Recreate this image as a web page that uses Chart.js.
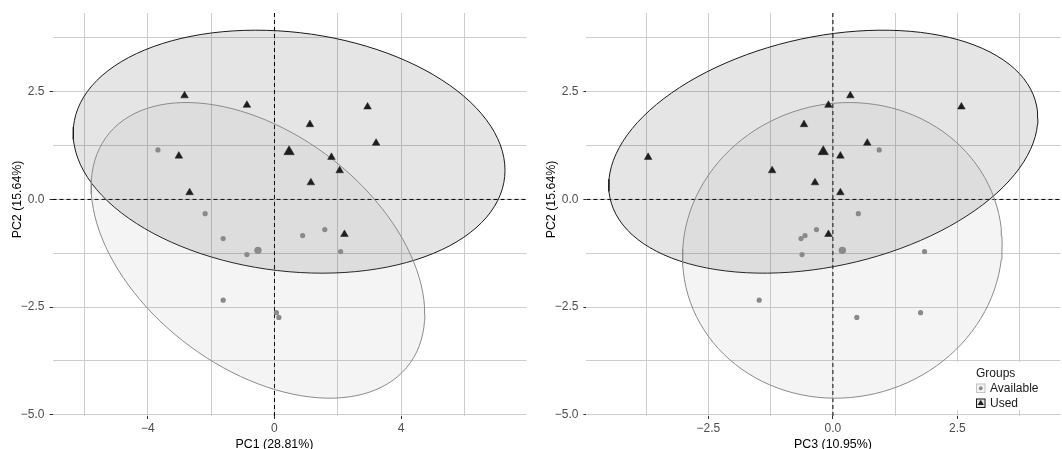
<!DOCTYPE html>
<html>
<head>
<meta charset="utf-8">
<script src="https://cdn.jsdelivr.net/npm/chart.js@4.4.1/dist/chart.umd.min.js"></script>
<style>
  html, body { margin: 0; padding: 0; background: #fff; overflow: hidden; }
  body { width: 1062px; height: 449px; position: relative; }
  canvas { position: absolute; top: 0; }
  #left { left: 0; }
  #right { left: 533px; }
</style>
</head>
<body>
<canvas id="left" width="533" height="449"></canvas>
<canvas id="right" width="534" height="449"></canvas>
<script>
// PCA scores: 11 used sites, 10 available sites
const usedPC1 = [-2.84, -0.87, 2.94, 1.12, 3.21, -3.02, 1.80, 2.06, 1.15, -2.68, 2.21];
const usedPC2 = [2.41, 2.19, 2.15, 1.74, 1.31, 1.01, 0.98, 0.67, 0.39, 0.16, -0.81];
const usedPC3 = [0.35, -0.09, 2.58, -0.58, 0.69, 0.15, -3.71, -1.22, -0.36, 0.15, -0.09];

const availPC1 = [-3.68, -2.19, -1.62, 0.89, 1.59, -0.87, 2.09, -1.62, 0.06, 0.14];
const availPC2 = [1.15, -0.33, -0.91, -0.84, -0.70, -1.28, -1.21, -2.34, -2.63, -2.74];
const availPC3 = [0.93, 0.51, -0.64, -0.56, -0.33, -0.62, 1.84, -1.48, 1.76, 0.48];

const groups = ['Available', 'Used'];
const pc1Title = 'PC1 (28.81%)';
const pc2Title = 'PC2 (15.64%)';
const pc3Title = 'PC3 (10.95%)';

// grid positions (minor + major) and the labelled ones
const pc2Ticks = [-5, -3.75, -2.5, -1.25, 0, 1.25, 2.5, 3.75];
const pc2Major = [-5, -2.5, 0, 2.5];
const pc1Ticks = [-6, -4, -2, 0, 2, 4, 6];
const pc1Major = [-4, 0, 4];
const pc3Ticks = [-3.75, -2.5, -1.25, 0, 1.25, 2.5, 3.75];
const pc3Major = [-2.5, 0, 2.5];

const FONT = '"Liberation Sans", Arial, sans-serif';
const GREY = '#8a8a8a';
const DARK = '#1e1e1e';
const USED_FILL = 'rgba(0,0,0,0.1)';
const AVAIL_FILL = 'rgba(150,150,150,0.1)';

Chart.defaults.font.family = FONT;

function mean(a) {
  return a.reduce((s, v) => s + v, 0) / a.length;
}

function pts(xs, ys) {
  return xs.map((x, i) => ({ x: x, y: ys[i] }));
}

// normal 95% ellipse, like ggplot2 stat_ellipse(type = "norm")
function ellipse(xs, ys, level = 0.95, segments = 120) {
  const n = xs.length;
  const mx = mean(xs), my = mean(ys);
  let sxx = 0, syy = 0, sxy = 0;
  for (let i = 0; i < n; i++) {
    const dx = xs[i] - mx, dy = ys[i] - my;
    sxx += dx * dx; syy += dy * dy; sxy += dx * dy;
  }
  sxx /= n - 1; syy /= n - 1; sxy /= n - 1;
  // cholesky of the covariance
  const a = Math.sqrt(sxx), b = sxy / a, c = Math.sqrt(syy - b * b);
  // F(2, n-1) quantile has a closed form
  const d = n - 1;
  const q = d / 2 * (Math.pow(1 - level, -2 / d) - 1);
  const r = Math.sqrt(2 * q);
  const out = [];
  for (let k = 0; k <= segments; k++) {
    const t = 2 * Math.PI * k / segments;
    out.push({ x: mx + r * a * Math.cos(t), y: my + r * (b * Math.cos(t) + c * Math.sin(t)) });
  }
  return out;
}

function fmt(v, digits) {
  const s = Math.abs(v).toFixed(digits);
  return v < 0 ? '\u2212' + s : s;
}

// dashed lines through the origin
const zeroLines = {
  id: 'zeroLines',
  beforeDatasetsDraw(chart) {
    const { ctx, chartArea: a, scales: { x, y } } = chart;
    const x0 = x.getPixelForValue(0), y0 = y.getPixelForValue(0);
    ctx.save();
    ctx.strokeStyle = '#000';
    ctx.lineWidth = 1;
    ctx.setLineDash([4, 3]);
    ctx.beginPath();
    ctx.moveTo(a.left, y0); ctx.lineTo(a.right, y0);
    ctx.moveTo(x0, a.top); ctx.lineTo(x0, a.bottom);
    ctx.stroke();
    ctx.restore();
  }
};

// axis titles sit centred on the origin in the original
const originTitles = {
  id: 'originTitles',
  afterDraw(chart, args, opts) {
    const { ctx, chartArea: a, scales: { x, y } } = chart;
    ctx.save();
    ctx.font = '12.4px ' + FONT;
    ctx.fillStyle = '#000';
    ctx.textAlign = 'center';
    ctx.textBaseline = 'alphabetic';
    ctx.fillText(opts.x, x.getPixelForValue(0), 448);
    ctx.translate(a.left - 31.5, y.getPixelForValue(0));
    ctx.rotate(-Math.PI / 2);
    ctx.fillText(opts.y, 0, 0);
    ctx.restore();
  }
};

// ggplot-like legend: boxed keys with the point inside
const groupLegend = {
  id: 'groupLegend',
  afterDraw(chart, args, opts) {
    if (!opts.show) return;
    const ctx = chart.ctx;
    ctx.save();
    ctx.fillStyle = '#fff';
    ctx.fillRect(opts.x - 20, opts.y - 6, 94, 48);
    ctx.font = '12px ' + FONT;
    ctx.fillStyle = '#1a1a1a';
    ctx.textBaseline = 'alphabetic';
    ctx.fillText(opts.title, opts.x, opts.y + 8.5);
    opts.items.forEach((it, i) => {
      const bx = opts.x, by = opts.y + 15.5 + i * 15, s = 9.5;
      ctx.fillStyle = '#fff';
      ctx.fillRect(bx, by, s, s);
      ctx.fillStyle = it.fill;
      ctx.fillRect(bx, by, s, s);
      ctx.strokeStyle = it.stroke;
      ctx.lineWidth = 1;
      ctx.strokeRect(bx + 0.5, by + 0.5, s - 1, s - 1);
      const cx = bx + s / 2, cy = by + s / 2;
      ctx.fillStyle = it.color;
      ctx.beginPath();
      if (it.style === 'triangle') {
        const r = 3.6;
        ctx.moveTo(cx, cy - r);
        ctx.lineTo(cx + r * 0.866, cy + r / 2);
        ctx.lineTo(cx - r * 0.866, cy + r / 2);
        ctx.closePath();
      } else {
        ctx.arc(cx, cy, 1.9, 0, 2 * Math.PI);
      }
      ctx.fill();
      ctx.fillStyle = '#1a1a1a';
      ctx.fillText(it.label, bx + 14, by + 8.6);
    });
    ctx.restore();
  }
};

function makeChart(id, usedX, availX, xr, xTicks, xMajor, xDigits, yAxisWidth, xTitle, showLegend) {
  return new Chart(document.getElementById(id), {
    type: 'scatter',
    data: {
      datasets: [
        { label: groups[1], data: pts(usedX, usedPC2), pointStyle: 'triangle', pointRadius: 4.4,
          backgroundColor: DARK, borderColor: DARK, borderWidth: 0.5, order: 0 },
        { label: groups[1] + ' mean', data: [{ x: mean(usedX), y: mean(usedPC2) }], pointStyle: 'triangle',
          pointRadius: 6, backgroundColor: DARK, borderColor: DARK, borderWidth: 0.5, order: 0 },
        { label: groups[0], data: pts(availX, availPC2), pointStyle: 'circle', pointRadius: 2.6,
          backgroundColor: GREY, borderColor: GREY, borderWidth: 0, order: 1 },
        { label: groups[0] + ' mean', data: [{ x: mean(availX), y: mean(availPC2) }], pointStyle: 'circle',
          pointRadius: 3.7, backgroundColor: GREY, borderColor: GREY, borderWidth: 0, order: 1 },
        { type: 'line', label: groups[1] + ' ellipse', data: ellipse(usedX, usedPC2), borderColor: '#1a1a1a',
          borderWidth: 1, backgroundColor: USED_FILL, fill: 'shape', pointRadius: 0, tension: 0, order: 3 },
        { type: 'line', label: groups[0] + ' ellipse', data: ellipse(availX, availPC2), borderColor: GREY,
          borderWidth: 1, backgroundColor: AVAIL_FILL, fill: 'shape', pointRadius: 0, tension: 0, order: 2 }
      ]
    },
    options: {
      responsive: false,
      animation: false,
      events: [],
      layout: { padding: { top: 13, left: 0, right: 0, bottom: 0 } },
      scales: {
        x: {
          type: 'linear', min: xr[0], max: xr[1],
          afterBuildTicks: s => { s.ticks = xTicks.map(v => ({ value: v })); },
          afterFit: s => { s.height = 33; },
          ticks: {
            autoSkip: false, maxRotation: 0, padding: 2, color: '#4d4d4d', font: { size: 12 },
            callback: v => xMajor.includes(v) ? fmt(v, xDigits) : ''
          },
          grid: {
            color: '#cdcdcd', lineWidth: 1, tickLength: 3,
            tickColor: c => xMajor.includes(c.tick.value) ? '#333' : 'rgba(0,0,0,0)'
          },
          border: { display: false }
        },
        y: {
          type: 'linear', min: -5.03, max: 4.33,
          afterBuildTicks: s => { s.ticks = pc2Ticks.map(v => ({ value: v })); },
          afterFit: s => { s.width = yAxisWidth; },
          ticks: {
            autoSkip: false, padding: 5, color: '#4d4d4d', font: { size: 12 },
            callback: v => pc2Major.includes(v) ? fmt(v, 1) : ''
          },
          grid: {
            color: '#cdcdcd', lineWidth: 1, tickLength: 3,
            tickColor: c => pc2Major.includes(c.tick.value) ? '#333' : 'rgba(0,0,0,0)'
          },
          border: { display: false }
        }
      },
      plugins: {
        legend: { display: false },
        tooltip: { enabled: false },
        originTitles: { x: xTitle, y: pc2Title },
        groupLegend: {
          show: showLegend, x: 443, y: 368, title: 'Groups',
          items: [
            { label: groups[0], style: 'circle', color: GREY, fill: AVAIL_FILL, stroke: '#c4c4c4' },
            { label: groups[1], style: 'triangle', color: DARK, fill: USED_FILL, stroke: '#1a1a1a' }
          ]
        }
      }
    },
    plugins: [zeroLines, originTitles, groupLegend]
  });
}

makeChart('left', usedPC1, availPC1, [-7.01, 7.96], pc1Ticks, pc1Major, 0, 52.5, pc1Title, false);
makeChart('right', usedPC3, availPC3, [-4.95, 4.57], pc3Ticks, pc3Major, 1, 53.4, pc3Title, true);
</script>
</body>
</html>
